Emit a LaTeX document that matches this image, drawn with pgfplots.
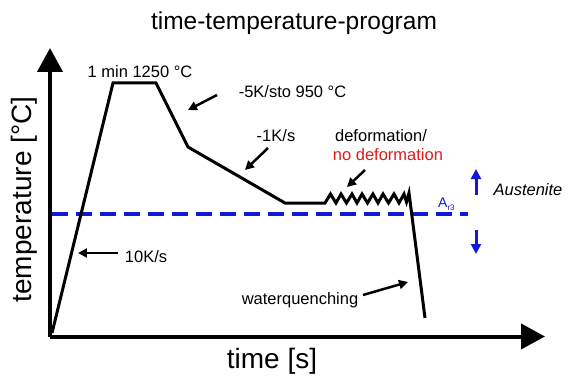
\documentclass[border=0pt]{standalone}
\usepackage{pgfplots}
\pgfplotsset{compat=1.18}
\usepackage{fontspec}
\setmainfont{Liberation Sans}
\usetikzlibrary{arrows.meta}
\definecolor{ablue}{RGB}{15,25,215}
\definecolor{ared}{RGB}{225,25,25}
\begin{document}
\begin{tikzpicture}
\begin{axis}[
  scale only axis, width=495pt, height=288.5pt,
  xmin=50, xmax=545, ymin=46.5, ymax=335,
  axis lines=left,
  axis line style={line width=4pt, -{Triangle[width=25pt,length=24pt]}},
  xtick=\empty, ytick=\empty,
  clip=false,
]
\path (axis cs:0,0) rectangle (axis cs:575,383);
% Ar3 line
\addplot[ablue, line width=3.5pt, dash pattern=on 16pt off 8pt] coordinates {(52,169) (468,169)};
% temperature program
\addplot[black, line width=3pt, line join=miter] coordinates {
(52,50) (113,300) (156,300) (188,236) (285,180) (325,180)
(330.5,189) (336,180) (341,189) (346.5,180) (352,189) (357,180) (362,189)
(367.5,180) (373,189) (378,180) (383,189) (388.5,180) (394,189) (399,180)
(404,189) (406.5,181) (409,190) (425,65)};
% annotation arrows
\begin{scope}[line width=2.5pt, -{Triangle[width=9pt,length=9pt]}]
\draw (axis cs:217,288) -- (axis cs:188,273);
\draw (axis cs:268,235) -- (axis cs:245,213);
\draw (axis cs:365,213) -- (axis cs:347,196);
\draw (axis cs:118,130) -- (axis cs:78,130);
\draw (axis cs:363,88) -- (axis cs:408,101);
\end{scope}
\begin{scope}[ablue, line width=3pt, -{Triangle[width=10pt,length=10pt]}]
\draw (axis cs:476,188) -- (axis cs:476,214);
\draw (axis cs:476,153) -- (axis cs:476,129);
\end{scope}
% texts
\node[anchor=base, inner sep=0pt, font=\fontsize{24.5}{26}\selectfont] at (axis cs:294,353) {time-temperature-program};
\node[anchor=base, inner sep=0pt, font=\fontsize{28}{30}\selectfont] at (axis cs:272,15) {time [s]};
\node[anchor=base, inner sep=0pt, rotate=90, font=\fontsize{28}{30}\selectfont] at (axis cs:32,183.5) {temperature [°C]};
\node[anchor=base, inner sep=0pt, font=\fontsize{16.5}{18}\selectfont] at (axis cs:140,305) {1 min 1250 °C};
\node[anchor=base, inner sep=0pt, font=\fontsize{16.5}{18}\selectfont] at (axis cs:292.5,285) {-5K/sto 950 °C};
\node[anchor=base, inner sep=0pt, font=\fontsize{16.5}{18}\selectfont] at (axis cs:276,241) {-1K/s};
\node[anchor=base, inner sep=0pt, font=\fontsize{16.5}{18}\selectfont] at (axis cs:381,241) {deformation/};
\node[anchor=base, inner sep=0pt, text=ared, font=\fontsize{16.5}{18}\selectfont] at (axis cs:388,223) {no deformation};
\node[anchor=base, inner sep=0pt, font=\fontsize{16.5}{18}\selectfont] at (axis cs:146,121) {10K/s};
\node[anchor=base, inner sep=0pt, font=\fontsize{16.5}{18}\selectfont] at (axis cs:300,78.5) {waterquenching};
\node[anchor=base, inner sep=0pt, font=\fontsize{16.5}{18}\selectfont\itshape] at (axis cs:528,188) {Austenite};
\node[anchor=base west, inner sep=0pt, text=ablue, font=\fontsize{14}{16}\selectfont] at (axis cs:438,176) {A\raisebox{-3pt}{\fontsize{8}{9}\selectfont r3}};
\end{axis}
\end{tikzpicture}
\end{document}
